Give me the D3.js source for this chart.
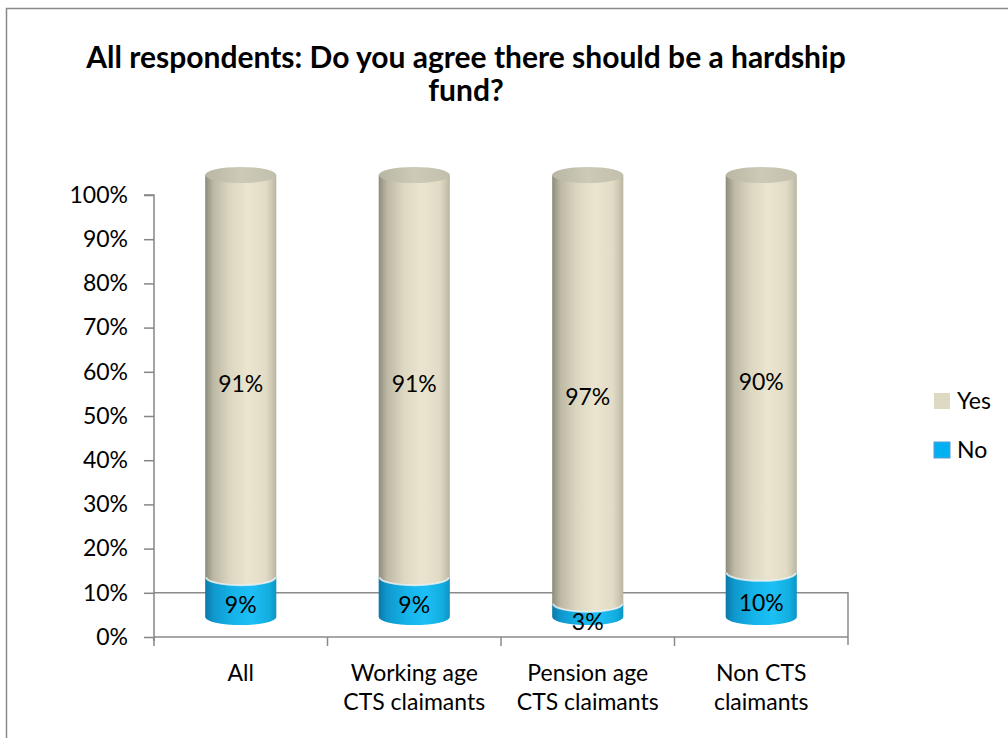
<!DOCTYPE html>
<html>
<head>
<meta charset="utf-8">
<script src="https://cdn.jsdelivr.net/npm/d3@7"></script>
<style>
  body { margin: 0; background: #fff; }
  text { font-family: Lato, "Open Sans", sans-serif; fill: #000; }
  .axis path, .axis line { stroke: #868686; stroke-width: 1.5; }
</style>
</head>
<body>
<div id="chart"></div>
<script>
(function () {
    "use strict";

    // categories and their two-line labels
    var categories = ["All", "Working age CTS claimants", "Pension age CTS claimants", "Non CTS claimants"],
        catLines = [["All"], ["Working age", "CTS claimants"], ["Pension age", "CTS claimants"], ["Non CTS", "claimants"]],
        seriesNames = ["No", "Yes"],
        noValues = [0.09, 0.09, 0.03, 0.10],
        yesValues = [0.91, 0.91, 0.97, 0.90],
        yTicks = [0, 0.1, 0.2, 0.3, 0.4, 0.5, 0.6, 0.7, 0.8, 0.9, 1.0],

        W = 1008, H = 738,
        depth = 20,     // 3d shift of the cylinders
        ry = 8,         // ellipse half height

        x = d3.scaleBand().domain(categories).range([154, 848]),
        y = d3.scaleLinear().domain([0, 1]).range([637, 195]),
        r = x.bandwidth() * 0.205,

        svg = d3.select("#chart").append("svg")
        .attr("width", W)
        .attr("height", H);

    // outer frame
    svg.append("rect")
        .attr("x", 6.5).attr("y", 8.5)
        .attr("width", W + 10).attr("height", H + 10)
        .attr("fill", "none")
        .attr("stroke", "#8a8a8a")
        .attr("stroke-width", 1.5);

    var defs = svg.append("defs");
    function grad(id, stops) {
        var g = defs.append("linearGradient").attr("id", id)
            .attr("x1", "0%").attr("x2", "100%").attr("y1", "0%").attr("y2", "0%");
        stops.forEach(function (s) {
            g.append("stop").attr("offset", s[0]).attr("stop-color", s[1]);
        });
    }
    grad("gYes", [[0, "#8e8b7b"], [0.12, "#bdb9a5"], [0.35, "#dcd7c1"], [0.6, "#ebe5cf"], [0.85, "#e2dcc6"], [0.93, "#cfcab5"], [1, "#b9b5a2"]]);
    grad("gNo", [[0, "#0b78a8"], [0.12, "#0f98cd"], [0.4, "#15b4ea"], [0.65, "#1cc0f6"], [0.9, "#13addf"], [1, "#0d94c4"]]);
    grad("gTop", [[0, "#b9b6a4"], [0.5, "#cdcab8"], [1, "#c2bfad"]]);

    // title
    var title = svg.append("text")
        .attr("text-anchor", "middle")
        .style("font-weight", "bold")
        .style("font-size", "30px");
    title.append("tspan").attr("x", 466).attr("y", 68)
        .text("All respondents: Do you agree there should be a hardship");
    title.append("tspan").attr("x", 466).attr("y", 101)
        .text("fund?");

    // floor / back wall outline
    var wall = svg.append("g").attr("fill", "none")
        .attr("stroke", "#8a8a8a").attr("stroke-width", 1.5);
    wall.append("path")
        .attr("d", "M" + x.range()[0] + "," + y(0.1) + "H" + x.range()[1] + "V" + (y(0) + 8));
    wall.append("path")
        .attr("d", "M" + x.range()[0] + "," + y(0) + "H" + x.range()[1]);
    wall.selectAll(".xtick")
        .data(categories)
        .enter().append("line")
        .attr("x1", function (d) { return x(d); })
        .attr("x2", function (d) { return x(d); })
        .attr("y1", y(0))
        .attr("y2", y(0) + 9);

    // y axis
    var yAxis = svg.append("g")
        .attr("class", "axis")
        .attr("transform", "translate(" + x.range()[0] + ",0)")
        .call(d3.axisLeft(y).tickValues(yTicks).tickFormat(d3.format(".0%")).tickSize(10).tickPadding(16));
    yAxis.select(".domain").attr("d", "M-10," + y(1) + "H0V" + (y(0) + 4));
    yAxis.selectAll("text").style("font-size", "23px").attr("fill", "#000");

    // category labels
    var cat = svg.append("g").selectAll(".cat")
        .data(categories)
        .enter().append("text")
        .attr("text-anchor", "middle")
        .style("font-size", "23px");
    cat.each(function (d, i) {
        var t = d3.select(this);
        catLines[i].forEach(function (line, j) {
            t.append("tspan")
                .attr("x", x(d) + x.bandwidth() / 2)
                .attr("y", 681 + j * 29)
                .text(line);
        });
    });

    // cylinders
    function segment(cx, v0, v1) {
        var yb = y(v0) - depth, yt = y(v1) - depth;
        return "M" + (cx - r) + "," + yt +
            "V" + yb +
            "A" + r + "," + ry + " 0 0 0 " + (cx + r) + "," + yb +
            "V" + yt + "Z";
    }
    var bars = svg.append("g").selectAll(".bar")
        .data(categories)
        .enter().append("g");

    bars.append("path")
        .attr("fill", "url(#gNo)")
        .attr("d", function (d, i) { return segment(x(d) + x.bandwidth() / 2, 0, noValues[i]); });
    bars.append("path")
        .attr("fill", "url(#gYes)")
        .attr("d", function (d, i) { return segment(x(d) + x.bandwidth() / 2, noValues[i], noValues[i] + yesValues[i]); });
    // light rim where the two segments meet
    bars.append("path")
        .attr("fill", "none")
        .attr("stroke", "#eef3f3")
        .attr("stroke-width", 2)
        .attr("opacity", 0.8)
        .attr("d", function (d, i) {
            var cx = x(d) + x.bandwidth() / 2, yy = y(noValues[i]) - depth;
            return "M" + (cx - r + 1) + "," + yy + "A" + (r - 1) + "," + ry + " 0 0 0 " + (cx + r - 1) + "," + yy;
        });
    bars.append("ellipse")
        .attr("fill", "url(#gTop)")
        .attr("cx", function (d) { return x(d) + x.bandwidth() / 2; })
        .attr("cy", function (d, i) { return y(noValues[i] + yesValues[i]) - depth; })
        .attr("rx", r)
        .attr("ry", ry);

    // value labels
    bars.append("text")
        .attr("text-anchor", "middle")
        .style("font-size", "23px")
        .attr("x", function (d) { return x(d) + x.bandwidth() / 2; })
        .attr("y", function (d, i) { return y(noValues[i] + yesValues[i] / 2) - depth + ry + 8; })
        .text(function (d, i) { return d3.format(".0%")(yesValues[i]); });
    bars.append("text")
        .attr("text-anchor", "middle")
        .style("font-size", "23px")
        .attr("x", function (d) { return x(d) + x.bandwidth() / 2; })
        .attr("y", function (d, i) { return y(noValues[i] / 2) - depth + ry + 8 + (noValues[i] < 0.05 ? 4 : 0); })
        .text(function (d, i) { return d3.format(".0%")(noValues[i]); });

    // legend
    var legend = svg.append("g").selectAll(".leg")
        .data(seriesNames.slice().reverse())
        .enter().append("g")
        .attr("transform", function (d, i) { return "translate(934," + (393 + i * 49) + ")"; });
    legend.append("rect")
        .attr("width", 16).attr("height", 16)
        .attr("fill", function (d) { return d === "Yes" ? "#ddd9c3" : "#00b0f0"; })
        .attr("stroke", function (d) { return d === "Yes" ? "none" : "#5b9bd5"; })
        .attr("stroke-width", 1);
    legend.append("text")
        .attr("x", 23).attr("y", 16)
        .style("font-size", "23px")
        .text(function (d) { return d; });
}());
</script>
</body>
</html>
